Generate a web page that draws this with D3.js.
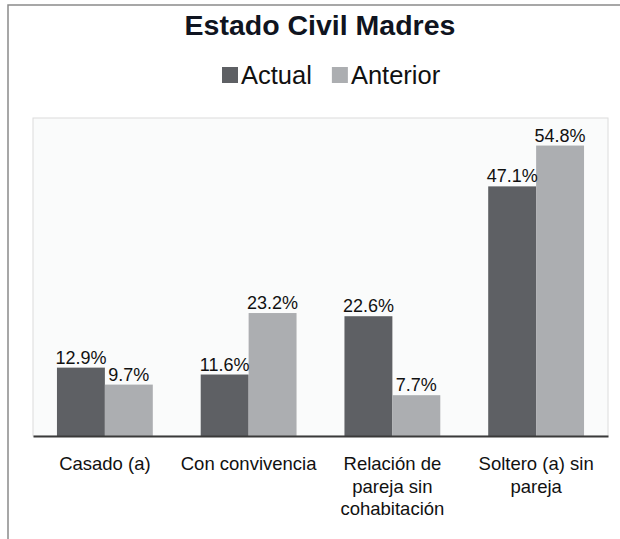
<!DOCTYPE html>
<html>
<head>
<meta charset="utf-8">
<script src="https://cdn.jsdelivr.net/npm/d3@7"></script>
<style>
  body { margin: 0; background: #fff; }
  svg { display: block; font-family: "Liberation Sans", Arial, sans-serif; }
</style>
</head>
<body>
<div id="main"></div>
<script>
// data
const categories = ["Casado (a)", "Con convivencia", "Relación de pareja sin cohabitación", "Soltero (a) sin pareja"];
const seriesNames = ["Actual", "Anterior"];
const actual = [12.9, 11.6, 22.6, 47.1];
const anterior = [9.7, 23.2, 7.7, 54.8];
const colors = ["#5e6064", "#acaeb1"];

const width = 620, height = 539;
const plot = {left: 33, right: 608, top: 118, bottom: 436};

const svg = d3.select('#main').append('svg')
  .attr('width', width).attr('height', height);

// outer frame
svg.append('rect')
  .attr('x', 8).attr('y', 5)
  .attr('width', width + 20).attr('height', height + 20)
  .attr('fill', 'none').attr('stroke', '#8a8a8a').attr('stroke-width', 1.5);

// title
svg.append('text')
  .attr('x', 320).attr('y', 35)
  .attr('text-anchor', 'middle')
  .style('font-size', '28.5px').style('font-weight', 'bold')
  .style('fill', '#0f1420')
  .text('Estado Civil Madres');

// legend
var lx = 222;
seriesNames.forEach(function(name, i){
  svg.append('rect').attr('x', lx).attr('y', 67).attr('width', 16).attr('height', 16)
     .attr('fill', colors[i]);
  var t = svg.append('text').attr('x', lx + 19).attr('y', 84)
     .style('font-size', '25.5px').style('fill', '#111').text(name);
  lx += 19 + t.node().getComputedTextLength() + 20;
});

// plot background
svg.append('rect')
  .attr('x', plot.left).attr('y', plot.top)
  .attr('width', plot.right - plot.left).attr('height', plot.bottom - plot.top)
  .attr('fill', '#fafbfb').attr('stroke', '#dcdcdc');

// scales
var x0 = d3.scaleBand().domain(categories).range([plot.left, plot.right])
  .paddingInner(1/3).paddingOuter(1/6);
var x1 = d3.scaleBand().domain(seriesNames).range([0, x0.bandwidth()]);
var y = d3.scaleLinear().domain([0, 60]).range([plot.bottom, plot.top]);

var rows = categories.map(function(c, i){
  return {cat: c, values: [{key: "Actual", v: actual[i]}, {key: "Anterior", v: anterior[i]}]};
});

var groups = svg.append('g').selectAll('g').data(rows).enter().append('g')
  .attr('transform', function(d){ return 'translate(' + x0(d.cat) + ',0)'; });

groups.selectAll('rect').data(function(d){ return d.values; }).enter().append('rect')
  .attr('x', function(d){ return x1(d.key); })
  .attr('y', function(d){ return y(d.v); })
  .attr('width', x1.bandwidth())
  .attr('height', function(d){ return y(0) - y(d.v); })
  .attr('fill', function(d, i){ return colors[i]; });

groups.selectAll('text').data(function(d){ return d.values; }).enter().append('text')
  .attr('x', function(d){ return x1(d.key) + x1.bandwidth()/2; })
  .attr('y', function(d){ return y(d.v) - 4; })
  .attr('text-anchor', 'middle')
  .style('font-size', '18px').style('fill', '#111')
  .text(function(d){ return d.v.toFixed(1) + '%'; });

// x axis
var xAxis = d3.axisBottom(x0).tickSize(0).tickSizeOuter(0);
var ax = svg.append('g').attr('transform', 'translate(0,' + plot.bottom + ')').call(xAxis);
ax.select('.domain').attr('stroke', '#3a3a3a').attr('stroke-width', 2);
ax.selectAll('.tick text')
  .style('font-size', '18.5px').style('fill', '#111')
  .each(function(){ wrap(d3.select(this), x0.step()); });
ax.attr('font-family', null).attr('font-size', null);

function wrap(text, maxW){
  var words = text.text().split(' ');
  text.text(null).attr('dy', null).attr('y', null);
  var lines = [], line = [];
  var probe = text.append('tspan');
  words.forEach(function(w){
    line.push(w);
    probe.text(line.join(' '));
    if (probe.node().getComputedTextLength() > maxW - 8 && line.length > 1) {
      line.pop();
      lines.push(line.join(' '));
      line = [w];
    }
  });
  lines.push(line.join(' '));
  probe.remove();
  lines.forEach(function(l, i){
    text.append('tspan').attr('x', 0).attr('y', 34 + i * 22.5).text(l);
  });
}
</script>
</body>
</html>
